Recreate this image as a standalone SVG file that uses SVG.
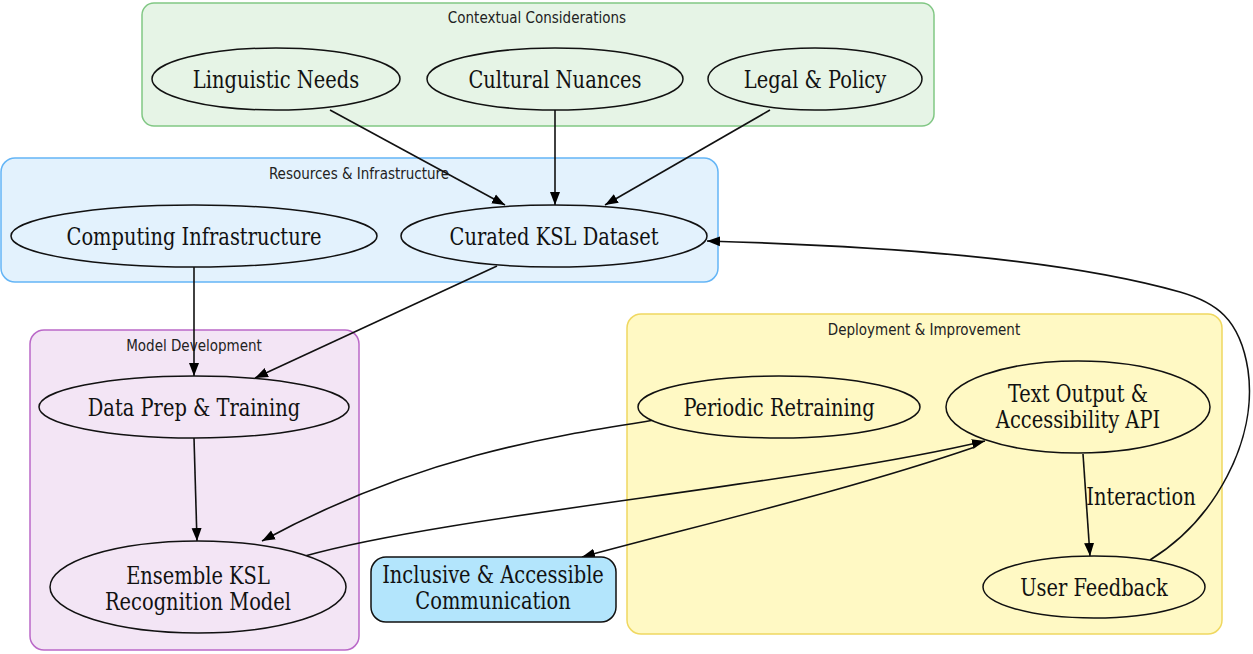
<svg xmlns="http://www.w3.org/2000/svg" width="1253" height="654" viewBox="0 0 1253 654">
<defs>
<marker id="ah" viewBox="0 0 13 11" refX="13" refY="5.5" markerWidth="13" markerHeight="11" markerUnits="userSpaceOnUse" orient="auto">
<path d="M0,0.5 L13,5.5 L0,10.5 z" fill="#000"/>
</marker>
<style>
.cl{font-family:"DejaVu Sans Condensed","DejaVu Sans",sans-serif;font-size:15px;fill:#222;text-anchor:middle}
.nt{font-family:"DejaVu Serif Condensed","DejaVu Serif",serif;font-size:23.5px;fill:#111;text-anchor:middle}
.nd{stroke:#111;stroke-width:1.5}
.e{fill:none;stroke:#111;stroke-width:1.6;marker-end:url(#ah)}
</style>
</defs>
<rect width="1253" height="654" fill="#fff"/>
<g id="clusters">
<rect x="142" y="3" width="792" height="123" rx="12" fill="#e6f4e6" stroke="#81c784" stroke-width="1.5"/>
<text class="cl" transform="translate(537,23)">Contextual Considerations</text>
<rect x="1" y="158" width="717" height="124" rx="14" fill="#e3f2fd" stroke="#64b5f6" stroke-width="1.5"/>
<text class="cl" transform="translate(359,179)">Resources &amp; Infrastructure</text>
<rect x="30" y="330" width="329" height="320" rx="14" fill="#f3e5f5" stroke="#ba68c8" stroke-width="1.5"/>
<text class="cl" transform="translate(194,351)">Model Development</text>
<rect x="627" y="314" width="595" height="320" rx="14" fill="#fff9c4" stroke="#f0d860" stroke-width="1.5"/>
<text class="cl" transform="translate(924,335)">Deployment &amp; Improvement</text>
</g>
<g id="connectors">
<path class="e" d="M330,110 L505,205"/>
<path class="e" d="M555,110 L555,205"/>
<path class="e" d="M770,110 L605,205"/>
<path class="e" d="M194,267 L194,376"/>
<path class="e" d="M497,266 L255,378"/>
<path class="e" d="M194,438 L197,541"/>
<path class="e" d="M655,420 C560,435 420,455 262,541"/>
<path class="e" d="M305,556 C450,515 800,485 985,441"/>
<path class="e" d="M975,447 C850,490 700,525 582,557"/>
<path class="e" d="M1083,454 L1090,556"/>
<text class="nt" transform="translate(1141,505) scale(0.92,1)">Interaction</text>
<path class="e" d="M1150,560 C1215,520 1258,440 1248,370 C1240,318 1215,302 1180,292 C1060,258 880,246 707,241"/>
</g>
<g id="n-linguistic"><ellipse class="nd" cx="276" cy="79" rx="124" ry="31" fill="#e6f4e6"/><text class="nt" transform="translate(276,88) scale(0.92,1)">Linguistic Needs</text></g>
<g id="n-cultural"><ellipse class="nd" cx="555" cy="79" rx="128" ry="31" fill="#e6f4e6"/><text class="nt" transform="translate(555,88) scale(0.92,1)">Cultural Nuances</text></g>
<g id="n-legal"><ellipse class="nd" cx="815" cy="79" rx="107" ry="31" fill="#e6f4e6"/><text class="nt" transform="translate(815,88) scale(0.92,1)">Legal &amp; Policy</text></g>
<g id="n-computing"><ellipse class="nd" cx="194" cy="236" rx="183" ry="31" fill="#e3f2fd"/><text class="nt" transform="translate(194,245) scale(0.92,1)">Computing Infrastructure</text></g>
<g id="n-dataset"><ellipse class="nd" cx="554" cy="236" rx="153" ry="31" fill="#e3f2fd"/><text class="nt" transform="translate(554,245) scale(0.92,1)">Curated KSL Dataset</text></g>
<g id="n-dataprep"><ellipse class="nd" cx="194" cy="407" rx="155" ry="31" fill="#f3e5f5"/><text class="nt" transform="translate(194,416) scale(0.92,1)">Data Prep &amp; Training</text></g>
<g id="n-ensemble"><ellipse class="nd" cx="198" cy="587" rx="148" ry="46" fill="#f3e5f5"/><text class="nt" transform="translate(198,584) scale(0.92,1)">Ensemble KSL</text><text class="nt" transform="translate(198,610) scale(0.92,1)">Recognition Model</text></g>
<g id="n-inclusive"><rect class="nd" x="371" y="557" width="245" height="65" rx="15" fill="#b3e5fc"/><text class="nt" transform="translate(493,583) scale(0.92,1)">Inclusive &amp; Accessible</text><text class="nt" transform="translate(493,609) scale(0.92,1)">Communication</text></g>
<g id="n-retraining"><ellipse class="nd" cx="779" cy="407" rx="141" ry="31" fill="#fff9c4"/><text class="nt" transform="translate(779,416) scale(0.92,1)">Periodic Retraining</text></g>
<g id="n-textout"><ellipse class="nd" cx="1078" cy="407" rx="132" ry="46" fill="#fff9c4"/><text class="nt" transform="translate(1078,402) scale(0.92,1)">Text Output &amp;</text><text class="nt" transform="translate(1078,428) scale(0.92,1)">Accessibility API</text></g>
<g id="n-feedback"><ellipse class="nd" cx="1094" cy="587" rx="111" ry="31" fill="#fff9c4"/><text class="nt" transform="translate(1094,596) scale(0.92,1)">User Feedback</text></g>
</svg>
